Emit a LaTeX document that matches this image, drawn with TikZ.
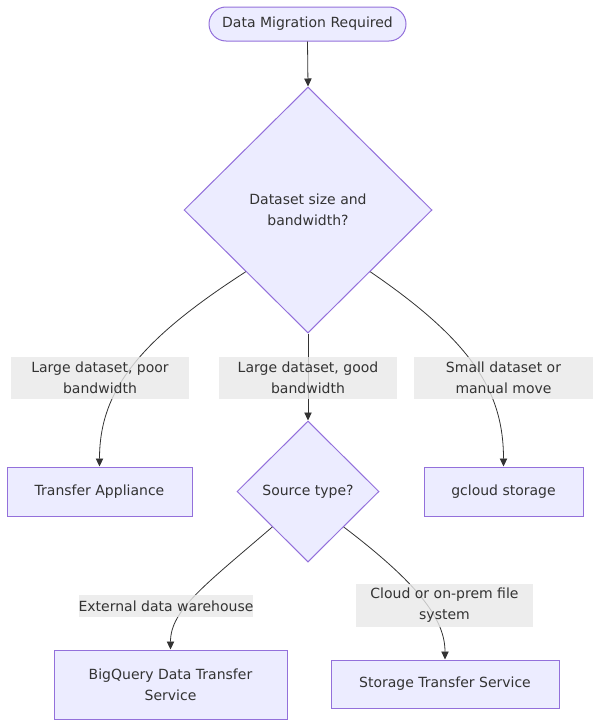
\documentclass[tikz,border=0pt]{standalone}
\usepackage{fontspec}
\setmainfont{DejaVu Sans}
\usetikzlibrary{shapes.geometric,arrows.meta}
\definecolor{nodefill}{HTML}{ECECFF}
\definecolor{nodeline}{HTML}{9370DB}
\definecolor{edgecol}{HTML}{333333}
\definecolor{labelbg}{HTML}{E8E8E8}
\definecolor{txt}{HTML}{333333}
\tikzset{
  box/.style={draw=nodeline, fill=nodefill, line width=0.75pt, text=txt, align=center, inner sep=0pt},
  decision/.style={box, diamond, aspect=1},
  elabel/.style={fill=labelbg, fill opacity=0.8, text opacity=1, text=txt, align=center, inner sep=0pt},
  edge/.style={draw=edgecol, line width=0.6pt, -{Triangle[length=6pt,width=5.5pt]}},
}
\begin{document}
\begin{tikzpicture}[x=0.75pt, y=-0.75pt, font=\fontsize{10.5pt}{15.75pt}\selectfont]
\useasboundingbox (0,0) rectangle (600,728);

\node[box, minimum width=147.75pt, minimum height=25.5pt, rounded corners=12.75pt] (start) at (307.5,24) {Data Migration Required};
\node[decision, minimum width=186pt, minimum height=184.5pt] (d1) at (308,210) {Dataset size and\\bandwidth?};
\node[box, minimum width=138.75pt, minimum height=36.75pt] (ta) at (99.5,491.5) {Transfer Appliance};
\node[decision, minimum width=106.5pt, minimum height=105.75pt] (d2) at (308,491.5) {Source type?};
\node[box, minimum width=119.25pt, minimum height=36.75pt] (gc) at (503.5,491.5) {gcloud storage};
\node[box, minimum width=174.75pt, minimum height=51.75pt] (bq) at (170.5,684.5) {BigQuery Data Transfer\\Service};
\node[box, minimum width=171pt, minimum height=36pt] (st) at (445,684) {Storage Transfer Service};

\draw[edge] (start.south) -- (d1.north);
\draw[edge] (d1.south west) .. controls (140,340) and (99.5,390) .. (ta.north);
\draw[edge] (d1.south) -- (d2.north);
\draw[edge] (d1.south east) .. controls (470,340) and (503.5,390) .. (gc.north);
\draw[edge] (d2.south west) .. controls (205,585) and (170.5,610) .. (bq.north);
\draw[edge] (d2.south east) .. controls (420,585) and (445,620) .. (st.north);

\node[elabel, minimum width=133.5pt, minimum height=31.5pt] (l1) at (100,378) {Large dataset, poor\\bandwidth};
\node[elabel, minimum width=133.5pt, minimum height=31.5pt] (l2) at (308,378) {Large dataset, good\\bandwidth};
\node[elabel, minimum width=134.25pt, minimum height=31.5pt] (l3) at (503.5,378) {Small dataset or\\manual move};
\node[elabel, minimum width=129pt, minimum height=16.5pt] (l4) at (166,606) {External data warehouse};
\node[elabel, minimum width=132.75pt, minimum height=32.25pt] (l5) at (444.5,605.5) {Cloud or on-prem file\\system};
\end{tikzpicture}
\end{document}
